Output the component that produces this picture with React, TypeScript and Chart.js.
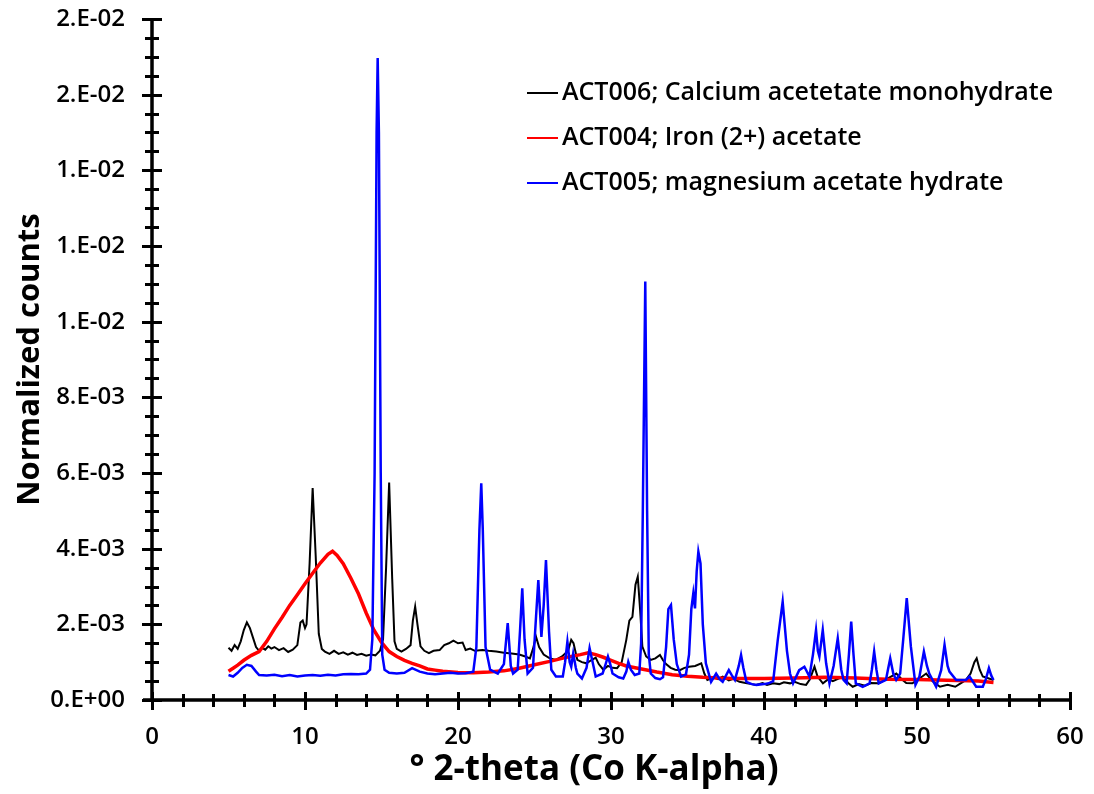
import React, { useEffect, useRef } from 'react';
import { Chart, registerables } from 'chart.js';

Chart.register(...registerables);

const seriesLabels = [
  'ACT006; Calcium acetetate monohydrate',
  'ACT004; Iron (2+) acetate',
  'ACT005; magnesium acetate hydrate',
];
const seriesColors = ['#000000', '#ff0000', '#0000ff'];

// ACT006 – calcium acetate monohydrate (black)
const caX = [
  5.0, 5.2, 5.4, 5.6, 5.8, 6.0, 6.2, 6.4, 6.6, 6.8, 7.0, 7.2, 7.4, 7.6, 7.8, 8.0, 8.3, 8.6, 8.9, 9.2,
  9.5, 9.7, 9.85, 10.0, 10.1, 10.3, 10.5, 10.7, 10.9, 11.1, 11.3, 11.6, 11.9, 12.2, 12.5, 12.8, 13.1, 13.4, 13.7, 14.0,
  14.3, 14.6, 14.9, 15.1, 15.3, 15.5, 15.7, 15.85, 16.0, 16.3, 16.6, 16.9, 17.05, 17.2, 17.35, 17.55, 17.8, 18.1, 18.4, 18.8,
  19.1, 19.4, 19.7, 20.0, 20.3, 20.5, 20.8, 21.1, 21.6, 22.0, 22.5, 23.0, 23.5, 24.0, 24.4, 24.7, 24.9, 25.1, 25.3, 25.6,
  26.0, 26.4, 26.8, 27.2, 27.4, 27.55, 27.8, 28.1, 28.4, 28.7, 29.0, 29.2, 29.5, 29.8, 30.1, 30.4, 30.7, 31.0, 31.2, 31.4,
  31.6, 31.75, 31.9, 32.05, 32.3, 32.6, 32.9, 33.2, 33.4, 33.6, 33.9, 34.2, 34.5, 34.8, 35.1, 35.5, 35.9, 36.1, 36.3, 36.7,
  37.0, 37.3, 37.7, 38.0, 38.4, 38.8, 39.2, 39.5, 39.9, 40.2, 40.6, 41.0, 41.3, 41.7, 42.0, 42.4, 42.75, 43.0, 43.3, 43.5,
  43.85, 44.2, 44.5, 44.8, 45.15, 45.5, 45.8, 46.2, 46.6, 47.0, 47.5, 48.0, 48.3, 48.65, 49.0, 49.3, 49.7, 50.1, 50.6, 51.0,
  51.5, 52.0, 52.5, 52.9, 53.2, 53.5, 53.75, 53.9, 54.1, 54.3, 54.6, 55.0,
];
const caY = [
  1.38e-3, 1.30e-3, 1.45e-3, 1.35e-3, 1.55e-3, 1.85e-3, 2.05e-3, 1.90e-3, 1.65e-3, 1.40e-3, 1.30e-3, 1.38e-3, 1.33e-3, 1.42e-3, 1.36e-3, 1.40e-3, 1.32e-3, 1.37e-3, 1.27e-3, 1.33e-3,
  1.45e-3, 2.05e-3, 2.10e-3, 1.90e-3, 2.00e-3, 3.60e-3, 5.60e-3, 3.80e-3, 1.75e-3, 1.35e-3, 1.28e-3, 1.22e-3, 1.30e-3, 1.22e-3, 1.26e-3, 1.20e-3, 1.25e-3, 1.19e-3, 1.22e-3, 1.17e-3,
  1.20e-3, 1.18e-3, 1.30e-3, 1.60e-3, 3.50e-3, 5.75e-3, 3.20e-3, 1.55e-3, 1.35e-3, 1.28e-3, 1.35e-3, 1.45e-3, 2.10e-3, 2.47e-3, 2.00e-3, 1.42e-3, 1.30e-3, 1.24e-3, 1.30e-3, 1.32e-3,
  1.45e-3, 1.50e-3, 1.57e-3, 1.50e-3, 1.52e-3, 1.32e-3, 1.36e-3, 1.30e-3, 1.32e-3, 1.30e-3, 1.28e-3, 1.25e-3, 1.23e-3, 1.20e-3, 1.15e-3, 1.10e-3, 1.35e-3, 1.67e-3, 1.40e-3, 1.20e-3,
  1.10e-3, 1.06e-3, 1.15e-3, 1.30e-3, 1.59e-3, 1.50e-3, 1.06e-3, 1.00e-3, 0.97e-3, 1.05e-3, 1.12e-3, 0.95e-3, 0.80e-3, 0.90e-3, 0.85e-3, 0.84e-3, 1.00e-3, 1.59e-3, 2.10e-3, 2.20e-3,
  3.05e-3, 3.26e-3, 2.40e-3, 1.41e-3, 1.15e-3, 1.06e-3, 1.10e-3, 1.19e-3, 1.05e-3, 0.95e-3, 0.85e-3, 0.80e-3, 0.79e-3, 0.85e-3, 0.88e-3, 0.90e-3, 0.97e-3, 0.70e-3, 0.53e-3, 0.60e-3,
  0.55e-3, 0.62e-3, 0.52e-3, 0.56e-3, 0.48e-3, 0.45e-3, 0.42e-3, 0.40e-3, 0.45e-3, 0.40e-3, 0.44e-3, 0.42e-3, 0.47e-3, 0.44e-3, 0.48e-3, 0.42e-3, 0.40e-3, 0.55e-3, 0.88e-3, 0.62e-3,
  0.44e-3, 0.55e-3, 0.50e-3, 0.55e-3, 0.62e-3, 0.45e-3, 0.35e-3, 0.42e-3, 0.38e-3, 0.45e-3, 0.44e-3, 0.55e-3, 0.62e-3, 0.70e-3, 0.55e-3, 0.45e-3, 0.44e-3, 0.55e-3, 0.70e-3, 0.50e-3,
  0.35e-3, 0.40e-3, 0.35e-3, 0.45e-3, 0.53e-3, 0.70e-3, 1.00e-3, 1.10e-3, 0.80e-3, 0.62e-3, 0.58e-3, 0.53e-3,
];

// ACT004 – iron (2+) acetate (red)
const feX = [
  5.0, 5.3, 5.6, 6.0, 6.5, 7.0, 7.5, 8.0, 8.5, 9.0, 9.5, 10.0, 10.5, 11.0, 11.5, 11.8, 12.1, 12.5, 13.0, 13.5,
  14.0, 14.5, 15.0, 15.5, 16.0, 16.5, 17.0, 17.5, 18.0, 18.5, 19.0, 20.0, 21.0, 22.0, 23.0, 24.0, 25.0, 26.0, 27.0, 28.0,
  28.5, 29.0, 29.5, 30.0, 30.5, 31.0, 32.0, 33.0, 34.0, 35.0, 36.0, 37.0, 38.0, 40.0, 42.0, 44.0, 46.0, 48.0, 50.0, 52.0,
  54.0, 55.0,
];
const feY = [
  0.76e-3, 0.84e-3, 0.92e-3, 1.05e-3, 1.18e-3, 1.28e-3, 1.55e-3, 1.88e-3, 2.18e-3, 2.50e-3, 2.78e-3, 3.07e-3, 3.35e-3, 3.62e-3, 3.85e-3, 3.93e-3, 3.82e-3, 3.60e-3, 3.22e-3, 2.80e-3,
  2.30e-3, 1.85e-3, 1.52e-3, 1.28e-3, 1.15e-3, 1.05e-3, 0.97e-3, 0.90e-3, 0.82e-3, 0.79e-3, 0.76e-3, 0.73e-3, 0.72e-3, 0.74e-3, 0.77e-3, 0.84e-3, 0.93e-3, 1.02e-3, 1.12e-3, 1.20e-3,
  1.25e-3, 1.20e-3, 1.13e-3, 1.05e-3, 0.97e-3, 0.90e-3, 0.82e-3, 0.74e-3, 0.67e-3, 0.63e-3, 0.60e-3, 0.58e-3, 0.57e-3, 0.57e-3, 0.58e-3, 0.60e-3, 0.58e-3, 0.55e-3, 0.54e-3, 0.52e-3,
  0.50e-3, 0.46e-3,
];

// ACT005 – magnesium acetate hydrate (blue)
const mgX = [
  5.0, 5.3, 5.6, 5.9, 6.2, 6.5, 6.8, 7.0, 7.5, 8.0, 8.5, 9.0, 9.5, 10.0, 10.5, 11.0, 11.5, 12.0, 12.5, 13.0,
  13.5, 14.0, 14.25, 14.4, 14.55, 14.68, 14.75, 14.83, 14.95, 15.05, 15.2, 15.5, 16.0, 16.5, 17.0, 17.5, 18.0, 18.5, 19.0, 19.5,
  20.0, 20.5, 21.0, 21.2, 21.4, 21.52, 21.62, 21.8, 22.1, 22.6, 23.0, 23.25, 23.45, 23.6, 23.9, 24.05, 24.2, 24.35, 24.55, 24.9,
  25.1, 25.25, 25.45, 25.6, 25.75, 25.95, 26.1, 26.4, 26.85, 27.0, 27.15, 27.3, 27.4, 27.53, 27.7, 27.8, 28.1, 28.4, 28.6, 28.8,
  29.0, 29.45, 29.65, 29.8, 29.95, 30.1, 30.5, 30.8, 31.0, 31.13, 31.3, 31.55, 31.85, 31.97, 32.08, 32.24, 32.36, 32.47, 32.6, 32.9,
  33.2, 33.4, 33.6, 33.75, 33.92, 34.1, 34.3, 34.58, 34.9, 35.1, 35.25, 35.38, 35.49, 35.6, 35.71, 35.85, 36.0, 36.2, 36.54, 36.87,
  37.1, 37.3, 37.7, 37.9, 38.1, 38.35, 38.5, 38.65, 38.85, 39.2, 39.5, 40.0, 40.3, 40.6, 40.9, 41.22, 41.5, 41.7, 41.9, 42.3,
  42.64, 42.97, 43.2, 43.4, 43.52, 43.62, 43.84, 44.06, 44.28, 44.55, 44.82, 45.05, 45.2, 45.4, 45.55, 45.7, 45.85, 46.0, 46.45, 46.9,
  47.05, 47.2, 47.35, 47.5, 47.97, 48.1, 48.25, 48.45, 48.64, 48.9, 49.1, 49.33, 49.6, 49.9, 50.16, 50.45, 50.65, 50.8, 51.25, 51.58,
  51.8, 52.0, 52.12, 52.56, 53.2, 53.43, 53.87, 54.3, 54.5, 54.7, 54.85, 55.0,
];
const mgY = [
  0.66e-3, 0.62e-3, 0.72e-3, 0.85e-3, 0.93e-3, 0.90e-3, 0.75e-3, 0.66e-3, 0.65e-3, 0.67e-3, 0.63e-3, 0.66e-3, 0.62e-3, 0.65e-3, 0.66e-3, 0.64e-3, 0.67e-3, 0.65e-3, 0.68e-3, 0.69e-3,
  0.68e-3, 0.70e-3, 0.80e-3, 1.60e-3, 6.00e-3, 15.0e-3, 16.97e-3, 15.0e-3, 6.00e-3, 1.20e-3, 0.80e-3, 0.72e-3, 0.70e-3, 0.72e-3, 0.84e-3, 0.75e-3, 0.70e-3, 0.68e-3, 0.70e-3, 0.72e-3,
  0.70e-3, 0.71e-3, 0.75e-3, 1.40e-3, 4.50e-3, 5.73e-3, 4.50e-3, 1.40e-3, 0.80e-3, 0.70e-3, 0.95e-3, 2.03e-3, 0.90e-3, 0.70e-3, 0.80e-3, 1.80e-3, 2.95e-3, 1.60e-3, 0.70e-3, 0.85e-3,
  2.20e-3, 3.17e-3, 1.67e-3, 2.50e-3, 3.70e-3, 1.80e-3, 0.80e-3, 0.62e-3, 0.62e-3, 1.00e-3, 1.54e-3, 1.00e-3, 0.88e-3, 1.23e-3, 0.85e-3, 0.70e-3, 0.57e-3, 0.85e-3, 1.37e-3, 1.00e-3,
  0.62e-3, 0.70e-3, 0.95e-3, 1.15e-3, 0.95e-3, 0.70e-3, 0.60e-3, 0.57e-3, 0.75e-3, 1.01e-3, 0.80e-3, 0.66e-3, 0.70e-3, 1.50e-3, 5.00e-3, 11.06e-3, 5.00e-3, 1.20e-3, 0.70e-3, 0.58e-3,
  0.55e-3, 0.60e-3, 1.40e-3, 2.40e-3, 2.51e-3, 1.60e-3, 0.95e-3, 0.62e-3, 0.68e-3, 1.20e-3, 2.40e-3, 2.82e-3, 2.42e-3, 3.40e-3, 3.92e-3, 3.61e-3, 2.00e-3, 0.97e-3, 0.48e-3, 0.70e-3,
  0.55e-3, 0.48e-3, 0.79e-3, 0.65e-3, 0.53e-3, 0.90e-3, 1.19e-3, 0.85e-3, 0.48e-3, 0.42e-3, 0.40e-3, 0.42e-3, 0.44e-3, 0.50e-3, 1.59e-3, 2.60e-3, 1.30e-3, 0.70e-3, 0.44e-3, 0.79e-3,
  0.88e-3, 0.62e-3, 1.20e-3, 1.85e-3, 1.30e-3, 1.15e-3, 1.85e-3, 0.97e-3, 0.44e-3, 0.90e-3, 1.63e-3, 0.80e-3, 0.53e-3, 0.44e-3, 1.20e-3, 2.07e-3, 1.20e-3, 0.44e-3, 0.35e-3, 0.44e-3,
  0.80e-3, 1.28e-3, 0.80e-3, 0.44e-3, 0.53e-3, 0.80e-3, 1.10e-3, 0.70e-3, 0.53e-3, 0.70e-3, 1.60e-3, 2.69e-3, 1.41e-3, 0.40e-3, 0.62e-3, 1.28e-3, 0.90e-3, 0.70e-3, 0.35e-3, 0.79e-3,
  1.46e-3, 0.90e-3, 0.75e-3, 0.53e-3, 0.53e-3, 0.62e-3, 0.35e-3, 0.35e-3, 0.55e-3, 0.84e-3, 0.65e-3, 0.53e-3,
];

const xTickValues = [0, 10, 20, 30, 40, 50, 60];
const xTickLabels = ['0', '10', '20', '30', '40', '50', '60'];
const yTickValues = [0, 0.002, 0.004, 0.006, 0.008, 0.010, 0.012, 0.014, 0.016, 0.018];
const yTickLabels = ['0.E+00', '2.E-03', '4.E-03', '6.E-03', '8.E-03', '1.E-02', '1.E-02', '1.E-02', '2.E-02', '2.E-02'];
const xTitle = '° 2-theta (Co K-alpha)';
const yTitle = 'Normalized counts';

const X_MINOR_STEP = 2;
const Y_MINOR_STEP = 0.0005;

const decorPlugin = {
  id: 'decor',
  afterDraw(chart: any) {
    const { ctx, chartArea: a, scales } = chart;
    const xs = scales.x;
    const ys = scales.y;
    ctx.save();
    ctx.strokeStyle = '#000';
    ctx.lineCap = 'butt';

    // axis lines
    ctx.lineWidth = 3.5;
    ctx.beginPath();
    ctx.moveTo(a.left, a.top);
    ctx.lineTo(a.left, a.bottom);
    ctx.moveTo(a.left - 9, a.bottom);
    ctx.lineTo(a.right + 1, a.bottom);
    ctx.stroke();

    // x ticks (crossing the axis)
    ctx.lineWidth = 3;
    ctx.beginPath();
    const xMax = xs.max;
    for (let k = 0; k * X_MINOR_STEP <= xMax + 1e-9; k++) {
      const v = k * X_MINOR_STEP;
      const px = Math.round(xs.getPixelForValue(v)) + 0.5;
      const major = xTickValues.includes(v);
      ctx.moveTo(px, a.bottom - (major ? 8 : 6));
      ctx.lineTo(px, a.bottom + (major ? 10 : 7));
    }
    ctx.stroke();

    // y ticks (crossing the axis)
    ctx.beginPath();
    const yMax = ys.max;
    for (let k = 0; k * Y_MINOR_STEP <= yMax + 1e-12; k++) {
      const v = k * Y_MINOR_STEP;
      const py = Math.round(ys.getPixelForValue(v)) + 0.5;
      const major = k % 4 === 0;
      ctx.moveTo(a.left - (major ? 10 : 7), py);
      ctx.lineTo(a.left + (major ? 10 : 7), py);
    }
    ctx.stroke();

    // axis titles
    ctx.fillStyle = '#000';
    ctx.textAlign = 'center';
    ctx.textBaseline = 'middle';
    ctx.font = 'bold 35px "Open Sans"';
    ctx.fillText(xTitle, a.left + 442, a.bottom + 70);
    ctx.save();
    ctx.font = 'bold 31px "Open Sans"';
    ctx.translate(30, (a.top + a.bottom) / 2);
    ctx.rotate(-Math.PI / 2);
    ctx.fillText(yTitle, 0, 0);
    ctx.restore();

    // legend inside the plot
    const lx = a.left + 375;
    const ly0 = a.top + 74;
    const gap = 45;
    ctx.font = '600 25px "Open Sans"';
    ctx.textAlign = 'left';
    chart.data.datasets.forEach((ds: any, i: number) => {
      const y = ly0 + i * gap;
      ctx.strokeStyle = ds.borderColor;
      ctx.lineWidth = 2;
      ctx.beginPath();
      ctx.moveTo(lx, y);
      ctx.lineTo(lx + 31, y);
      ctx.stroke();
      ctx.fillStyle = '#000';
      ctx.fillText(ds.label, lx + 35, y);
    });
    ctx.restore();
  },
};

export default function App() {
  const ref = useRef<HTMLCanvasElement>(null);
  useEffect(() => {
    document.body.style.margin = '0';
    const toPts = (xs: number[], ys: number[]) => xs.map((x, i) => ({ x, y: ys[i] }));
    const tickFont = { family: '"Open Sans"', size: 24, weight: '600' as any };
    const chart = new Chart(ref.current as HTMLCanvasElement, {
      type: 'line',
      data: {
        datasets: [
          { label: seriesLabels[0], data: toPts(caX, caY), borderColor: seriesColors[0], borderWidth: 2, order: 2 },
          { label: seriesLabels[1], data: toPts(feX, feY), borderColor: seriesColors[1], borderWidth: 3.5, order: 1 },
          { label: seriesLabels[2], data: toPts(mgX, mgY), borderColor: seriesColors[2], borderWidth: 2.5, order: 0 },
        ],
      },
      options: {
        responsive: false,
        animation: false,
        layout: { padding: { left: 0, top: 19, right: 24, bottom: 0 } },
        elements: {
          point: { radius: 0 },
          line: { tension: 0, fill: false },
        },
        plugins: { legend: { display: false }, tooltip: { enabled: false } },
        scales: {
          x: {
            type: 'linear',
            min: 0,
            max: 60,
            afterFit: (s: any) => {
              s.height = 94;
              s.paddingLeft = 0;
              s.paddingRight = 0;
            },
            afterBuildTicks: (s: any) => { s.ticks = xTickValues.map((v) => ({ value: v })); },
            grid: { display: false, drawTicks: false },
            border: { display: false },
            ticks: {
              autoSkip: false,
              maxRotation: 0,
              padding: 23,
              color: '#000',
              font: tickFont,
              callback: (_v: any, i: number) => xTickLabels[i],
            },
          },
          y: {
            type: 'linear',
            min: 0,
            max: 0.018,
            afterFit: (s: any) => {
              s.width = 152;
              s.paddingTop = 0;
              s.paddingBottom = 0;
            },
            afterBuildTicks: (s: any) => { s.ticks = yTickValues.map((v) => ({ value: v })); },
            grid: { display: false, drawTicks: false },
            border: { display: false },
            ticks: {
              autoSkip: false,
              padding: 27,
              color: '#000',
              font: tickFont,
              callback: (_v: any, i: number) => yTickLabels[i],
            },
          },
        },
      },
      plugins: [decorPlugin],
    });
    return () => chart.destroy();
  }, []);
  return <canvas ref={ref} width={1094} height={794} style={{ display: 'block' }} />;
}
